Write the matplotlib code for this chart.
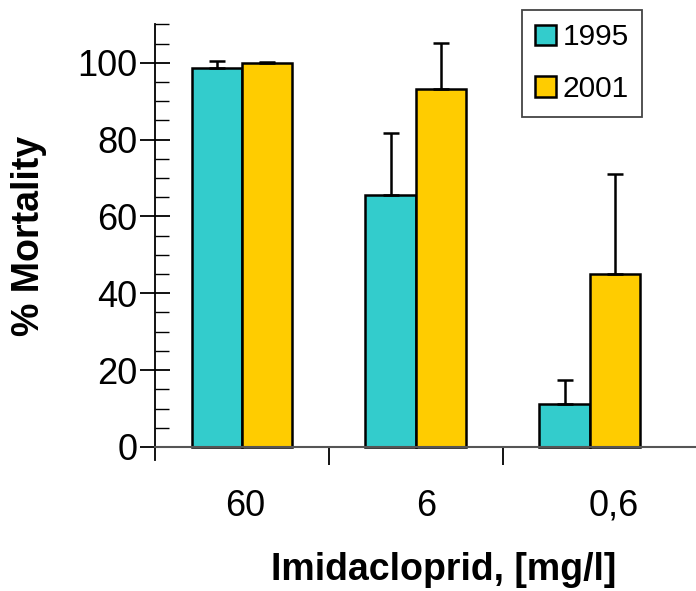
import numpy as np
import matplotlib.pyplot as plt
from matplotlib.ticker import MultipleLocator

plt.rcParams['font.family'] = ['Liberation Sans', 'DejaVu Sans']

# data
doses = ['60', '6', '0,6']
years = ['1995', '2001']
mort_1995 = [98.7, 65.6, 11.2]
err_1995 = [1.8, 16.2, 6.2]
mort_2001 = [100.0, 93.2, 45.0]
err_2001 = [0.3, 12.0, 26.1]

colors = ['#33CCCC', '#FFCC00']

fig = plt.figure(figsize=(6.96, 5.91), dpi=100)
ax = fig.add_axes([0.2227, 0.2217, 0.777, 0.737])

x = np.arange(len(doses))
w = 0.29
for off, vals, errs, c, lab in [(-w/2, mort_1995, err_1995, colors[0], years[0]),
                                 (w/2, mort_2001, err_2001, colors[1], years[1])]:
    ax.bar(x + off, vals, width=w, color=c, edgecolor='black', linewidth=1.8,
           label=lab, zorder=2)
    ax.errorbar(x + off, vals, yerr=[np.zeros(len(errs)), errs], fmt='none',
                ecolor='black', elinewidth=1.8, capsize=6, capthick=1.8, zorder=3)

ax.set_xlim(-0.5, 2.61)
ax.set_ylim(-3.4, 110)
ax.spines['top'].set_visible(False)
ax.spines['right'].set_visible(False)
ax.spines['bottom'].set_position(('data', 0))
ax.spines['bottom'].set_color('#555555')
ax.spines['bottom'].set_linewidth(1.5)
ax.spines['left'].set_linewidth(1.3)

ax.yaxis.set_minor_locator(MultipleLocator(5))
ax.set_yticks(np.arange(0, 101, 20))
ax.tick_params(axis='y', which='major', direction='inout', length=21, width=1.3,
               labelsize=26, pad=2)
ax.tick_params(axis='y', which='minor', direction='in', length=10, width=1)

# category labels sit a little right of the bar pairs in the original
ax.set_xticks([0.5, 1.5])
ax.set_xticks(x + np.array([0.02, 0.06, 0.14]), minor=True)
ax.set_xticklabels([])
ax.set_xticklabels(doses, minor=True)
ax.tick_params(axis='x', which='major', direction='out', length=13, width=1.3)
ax.tick_params(axis='x', which='minor', length=0, labelsize=26, pad=30)

fig.text(0.042, 0.60, '% Mortality', rotation=90, ha='center', va='center',
         fontsize=27, fontweight='bold')
fig.text(0.638, 0.036, 'Imidacloprid, [mg/l]', ha='center', va='center',
         fontsize=27, fontweight='bold')

leg = ax.legend(loc='upper left', bbox_to_anchor=(522/696, 1 - 10/591),
                bbox_transform=fig.transFigure, fontsize=21.5, fancybox=False,
                framealpha=1, edgecolor='#444444', handlelength=0.7,
                handleheight=0.7, handletextpad=0.2, labelspacing=0.8,
                borderpad=0.45, borderaxespad=0)
leg.get_frame().set_linewidth(1.3)

fig.savefig('out.png', dpi=100)
